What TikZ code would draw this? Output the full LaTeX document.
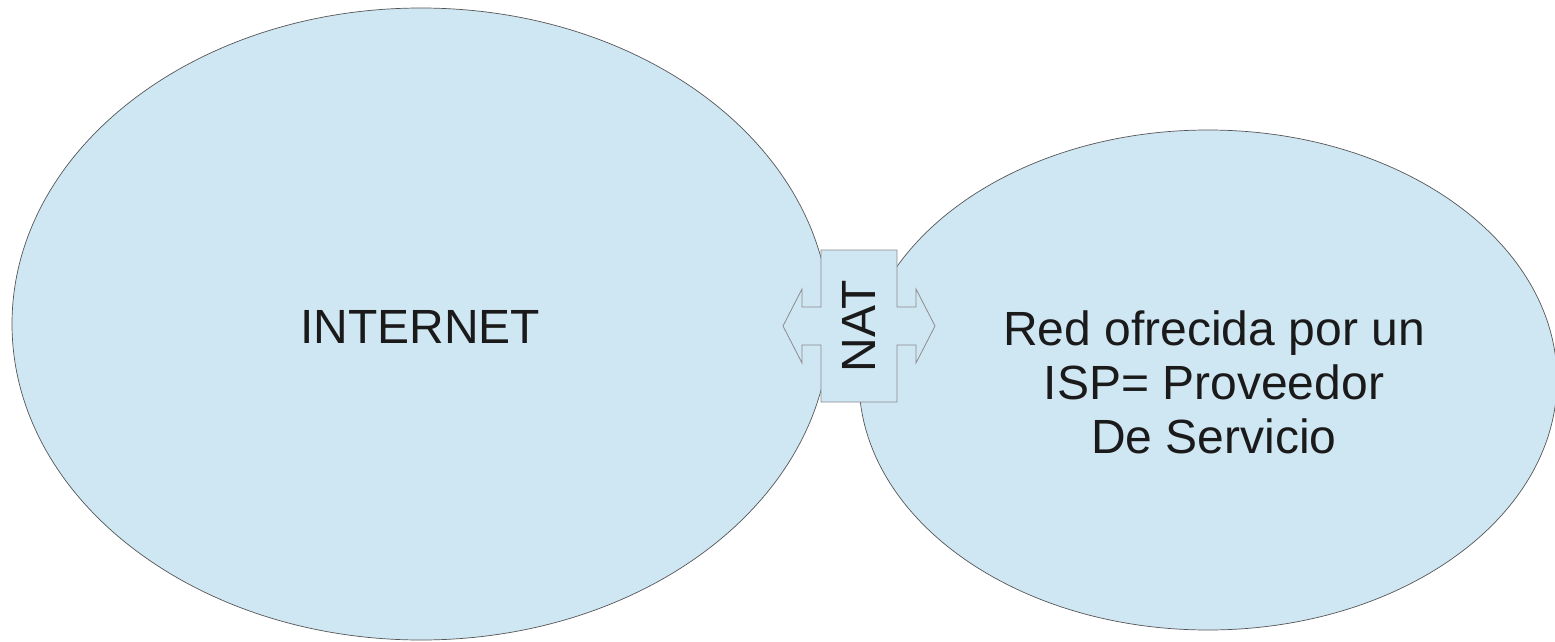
\documentclass[tikz,border=0pt]{standalone}
\usepackage{fontspec}
\setmainfont{Liberation Sans}
\usetikzlibrary{shapes.geometric}
\definecolor{netBlue}{RGB}{207,230,243}
\definecolor{netLine}{RGB}{85,85,85}
\definecolor{natLine}{RGB}{140,140,140}
\definecolor{netText}{RGB}{26,26,26}

\begin{document}
\begin{tikzpicture}[x=1pt, y=-1pt,
    every node/.style={font=\fontsize{48}{54}\selectfont, text=netText},
    cloud/.style={ellipse, draw=netLine, line width=0.7pt, fill=netBlue, inner sep=0pt}]
    \useasboundingbox (0,0) rectangle (1555,642);
    % the two networks
    \node[cloud, minimum width=818, minimum height=632] (inet) at (421,324) {};
    \node[cloud, minimum width=698, minimum height=500] (isp) at (1208,380) {};
    \node (inetlbl) at (420,327) {INTERNET};
    \node[align=center] (isplbl) at (1214,382) {Red ofrecida por un\\ISP= Proveedor\\De Servicio};
    % NAT box with its two arrow arms
    \draw[natLine, line width=0.8pt, fill=netBlue]
      (821,250) -- (897,250) -- (897,307) -- (916,307) -- (916,289) -- (935,326)
      -- (916,363) -- (916,345) -- (897,345) -- (897,402) -- (821,402) -- (821,345)
      -- (802,345) -- (802,363) -- (783,326) -- (802,289) -- (802,307) -- (821,307) -- cycle;
    \node[rotate=90] (natlbl) at (859,326) {NAT};
\end{tikzpicture}
\end{document}
